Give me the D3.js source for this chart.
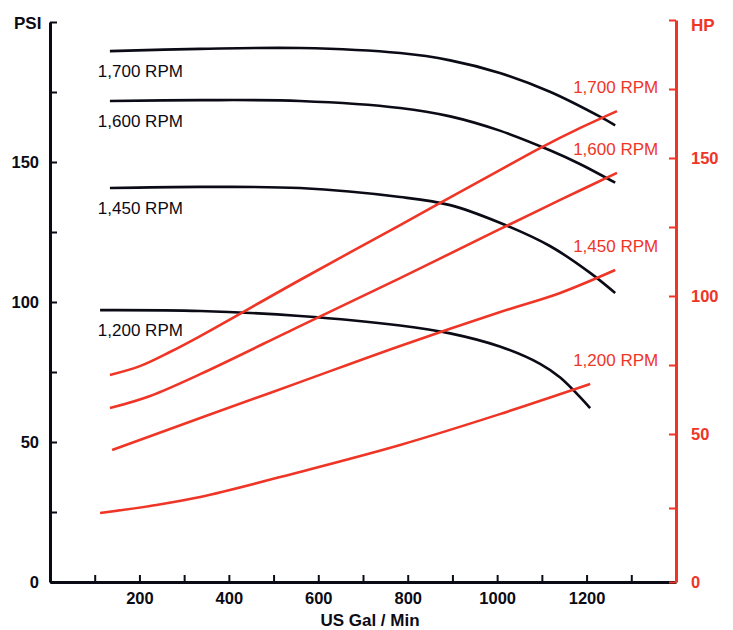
<!DOCTYPE html>
<html>
<head>
<meta charset="utf-8">
<script src="https://cdn.jsdelivr.net/npm/d3@7"></script>
<style>
  html, body { margin: 0; padding: 0; background: #ffffff; }
  svg { display: block; font-family: "Liberation Sans", Arial, Helvetica, sans-serif; }
</style>
</head>
<body>
<svg id="chart" width="733" height="630"></svg>
<script>
// ---------- DATA ----------
const rpmLabels = ["1,700 RPM", "1,600 RPM", "1,450 RPM", "1,200 RPM"];

// Pressure curves (US gal/min, PSI)
const psi1700 = [[134,189.6],[336,190.4],[559,190.7],[783,188.9],[895,186.3],[1006,181.8],[1118,175.1],[1230,166.2],[1264,163.1]];
const psi1600 = [[134,171.8],[336,172.1],[559,171.8],[783,169.3],[895,166.3],[1006,161.2],[1118,154.2],[1185,149.3],[1264,142.6]];
const psi1450 = [[134,140.7],[336,141.1],[559,140.7],[783,137.5],[895,134.6],[1006,128.3],[1118,120.0],[1208,110.4],[1264,103.2]];
const psi1200 = [[112,97.1],[336,96.8],[559,95.0],[783,91.6],[895,88.8],[1006,84.1],[1096,77.9],[1141,73.0],[1208,62.1]];

// Horsepower curves (US gal/min, HP)
const hp1700 = [[134,71.4],[201,74.6],[268,79.7],[336,85.5],[559,105.8],[783,125.7],[1007,145.7],[1096,153.6],[1186,160.9],[1268,167.0]];
const hp1600 = [[134,59.4],[224,63.8],[336,71.7],[559,89.1],[783,106.5],[1007,124.3],[1141,134.8],[1268,144.6]];
const hp1450 = [[139,44.6],[336,55.8],[559,68.8],[783,81.9],[1007,94.2],[1141,101.1],[1264,109.4]];
const hp1200 = [[112,23.3],[224,25.7],[336,28.7],[559,37.2],[783,46.3],[1006,57.2],[1208,68.1]];

const xTicks = [100,200,300,400,500,600,700,800,900,1000,1100,1200,1300];
const xTickLabels = [200,400,600,800,1000,1200];
const psiTicks = [0,25,50,75,100,125,150,175,200];
const psiTickLabels = [0,50,100,150];
const hpTicks = [0,25,50,75,100,125,150,175,200];
const hpTickLabels = [0,50,100,150];

// ---------- STYLE ----------
const BLACK = "#0b0b16";
const RED = "#ef3526";

const svg = d3.select("#chart");

const x = d3.scaleLinear().domain([0, 1400]).range([50, 676]);
const yL = d3.scaleLinear().domain([0, 200]).range([582, 22]);
const yR = d3.scaleLinear().domain([0, 50, 200]).range([582, 434, 20]);

// ---------- AXES ----------
const fmt = (labels) => (d) => labels.includes(d) ? String(d) : "";

// Left axis (PSI)
const gL = svg.append("g").attr("transform", "translate(50,0)")
  .call(d3.axisLeft(yL).tickValues(psiTicks).tickFormat(fmt(psiTickLabels))
        .tickSizeInner(-7).tickSizeOuter(0).tickPadding(11));
gL.select(".domain").attr("stroke", BLACK).attr("stroke-width", 3);
gL.selectAll(".tick line").attr("stroke", BLACK).attr("stroke-width", 2);
gL.selectAll(".tick text").attr("fill", BLACK).attr("font-size", 16.5).attr("font-weight", "bold")
  .attr("font-family", "'Liberation Sans', Arial, sans-serif");

// Bottom axis (US Gal / Min)
const gB = svg.append("g").attr("transform", "translate(0,582)")
  .call(d3.axisBottom(x).tickValues(xTicks).tickFormat(fmt(xTickLabels))
        .tickSizeInner(-7).tickSizeOuter(0).tickPadding(10));
gB.select(".domain").attr("stroke", BLACK).attr("stroke-width", 3);
gB.selectAll(".tick line").attr("stroke", BLACK).attr("stroke-width", 2);
gB.selectAll(".tick text").attr("fill", BLACK).attr("font-size", 16.5).attr("font-weight", "bold")
  .attr("font-family", "'Liberation Sans', Arial, sans-serif");

// Right axis (HP)
const gR = svg.append("g").attr("transform", "translate(676,0)")
  .call(d3.axisRight(yR).tickValues(hpTicks).tickFormat(fmt(hpTickLabels))
        .tickSizeInner(-7).tickSizeOuter(0).tickPadding(15));
gR.select(".domain").attr("stroke", RED).attr("stroke-width", 3);
gR.selectAll(".tick line").attr("stroke", RED).attr("stroke-width", 2);
gR.selectAll(".tick text").attr("fill", RED).attr("font-size", 16.5).attr("font-weight", "bold")
  .attr("font-family", "'Liberation Sans', Arial, sans-serif");

// Axis titles
svg.append("text").attr("x", 14).attr("y", 29).text("PSI")
  .attr("fill", BLACK).attr("font-size", 17).attr("font-weight", "bold");
svg.append("text").attr("x", 691).attr("y", 31).text("HP")
  .attr("fill", RED).attr("font-size", 17).attr("font-weight", "bold");
svg.append("text").attr("x", 370).attr("y", 626).attr("text-anchor", "middle").text("US Gal / Min")
  .attr("fill", BLACK).attr("font-size", 17).attr("font-weight", "bold");

// ---------- CURVES ----------
const psiSeries = [psi1700, psi1600, psi1450, psi1200];
const hpSeries = [hp1700, hp1600, hp1450, hp1200];

const lineL = d3.line().x(d => x(d[0])).y(d => yL(d[1])).curve(d3.curveCatmullRom.alpha(0.5));
const lineR = d3.line().x(d => x(d[0])).y(d => yR(d[1])).curve(d3.curveCatmullRom.alpha(0.5));

svg.append("g").selectAll("path").data(psiSeries).join("path")
  .attr("d", lineL).attr("fill", "none").attr("stroke", BLACK).attr("stroke-width", 2.6)
  .attr("stroke-linecap", "butt");

svg.append("g").selectAll("path").data(hpSeries).join("path")
  .attr("d", lineR).attr("fill", "none").attr("stroke", RED).attr("stroke-width", 2.6)
  .attr("stroke-linecap", "butt");

// ---------- LABELS ----------
svg.append("g").selectAll("text").data(psiSeries).join("text")
  .attr("x", x(107))
  .attr("y", d => yL(d[0][1]) + 26)
  .text((d, i) => rpmLabels[i])
  .attr("fill", BLACK).attr("font-size", 17);

svg.append("g").selectAll("text").data(hpSeries).join("text")
  .attr("x", x(1170))
  .attr("y", d => yR(d[d.length - 1][1]) - 18)
  .text((d, i) => rpmLabels[i])
  .attr("fill", RED).attr("font-size", 17);
</script>
</body>
</html>
